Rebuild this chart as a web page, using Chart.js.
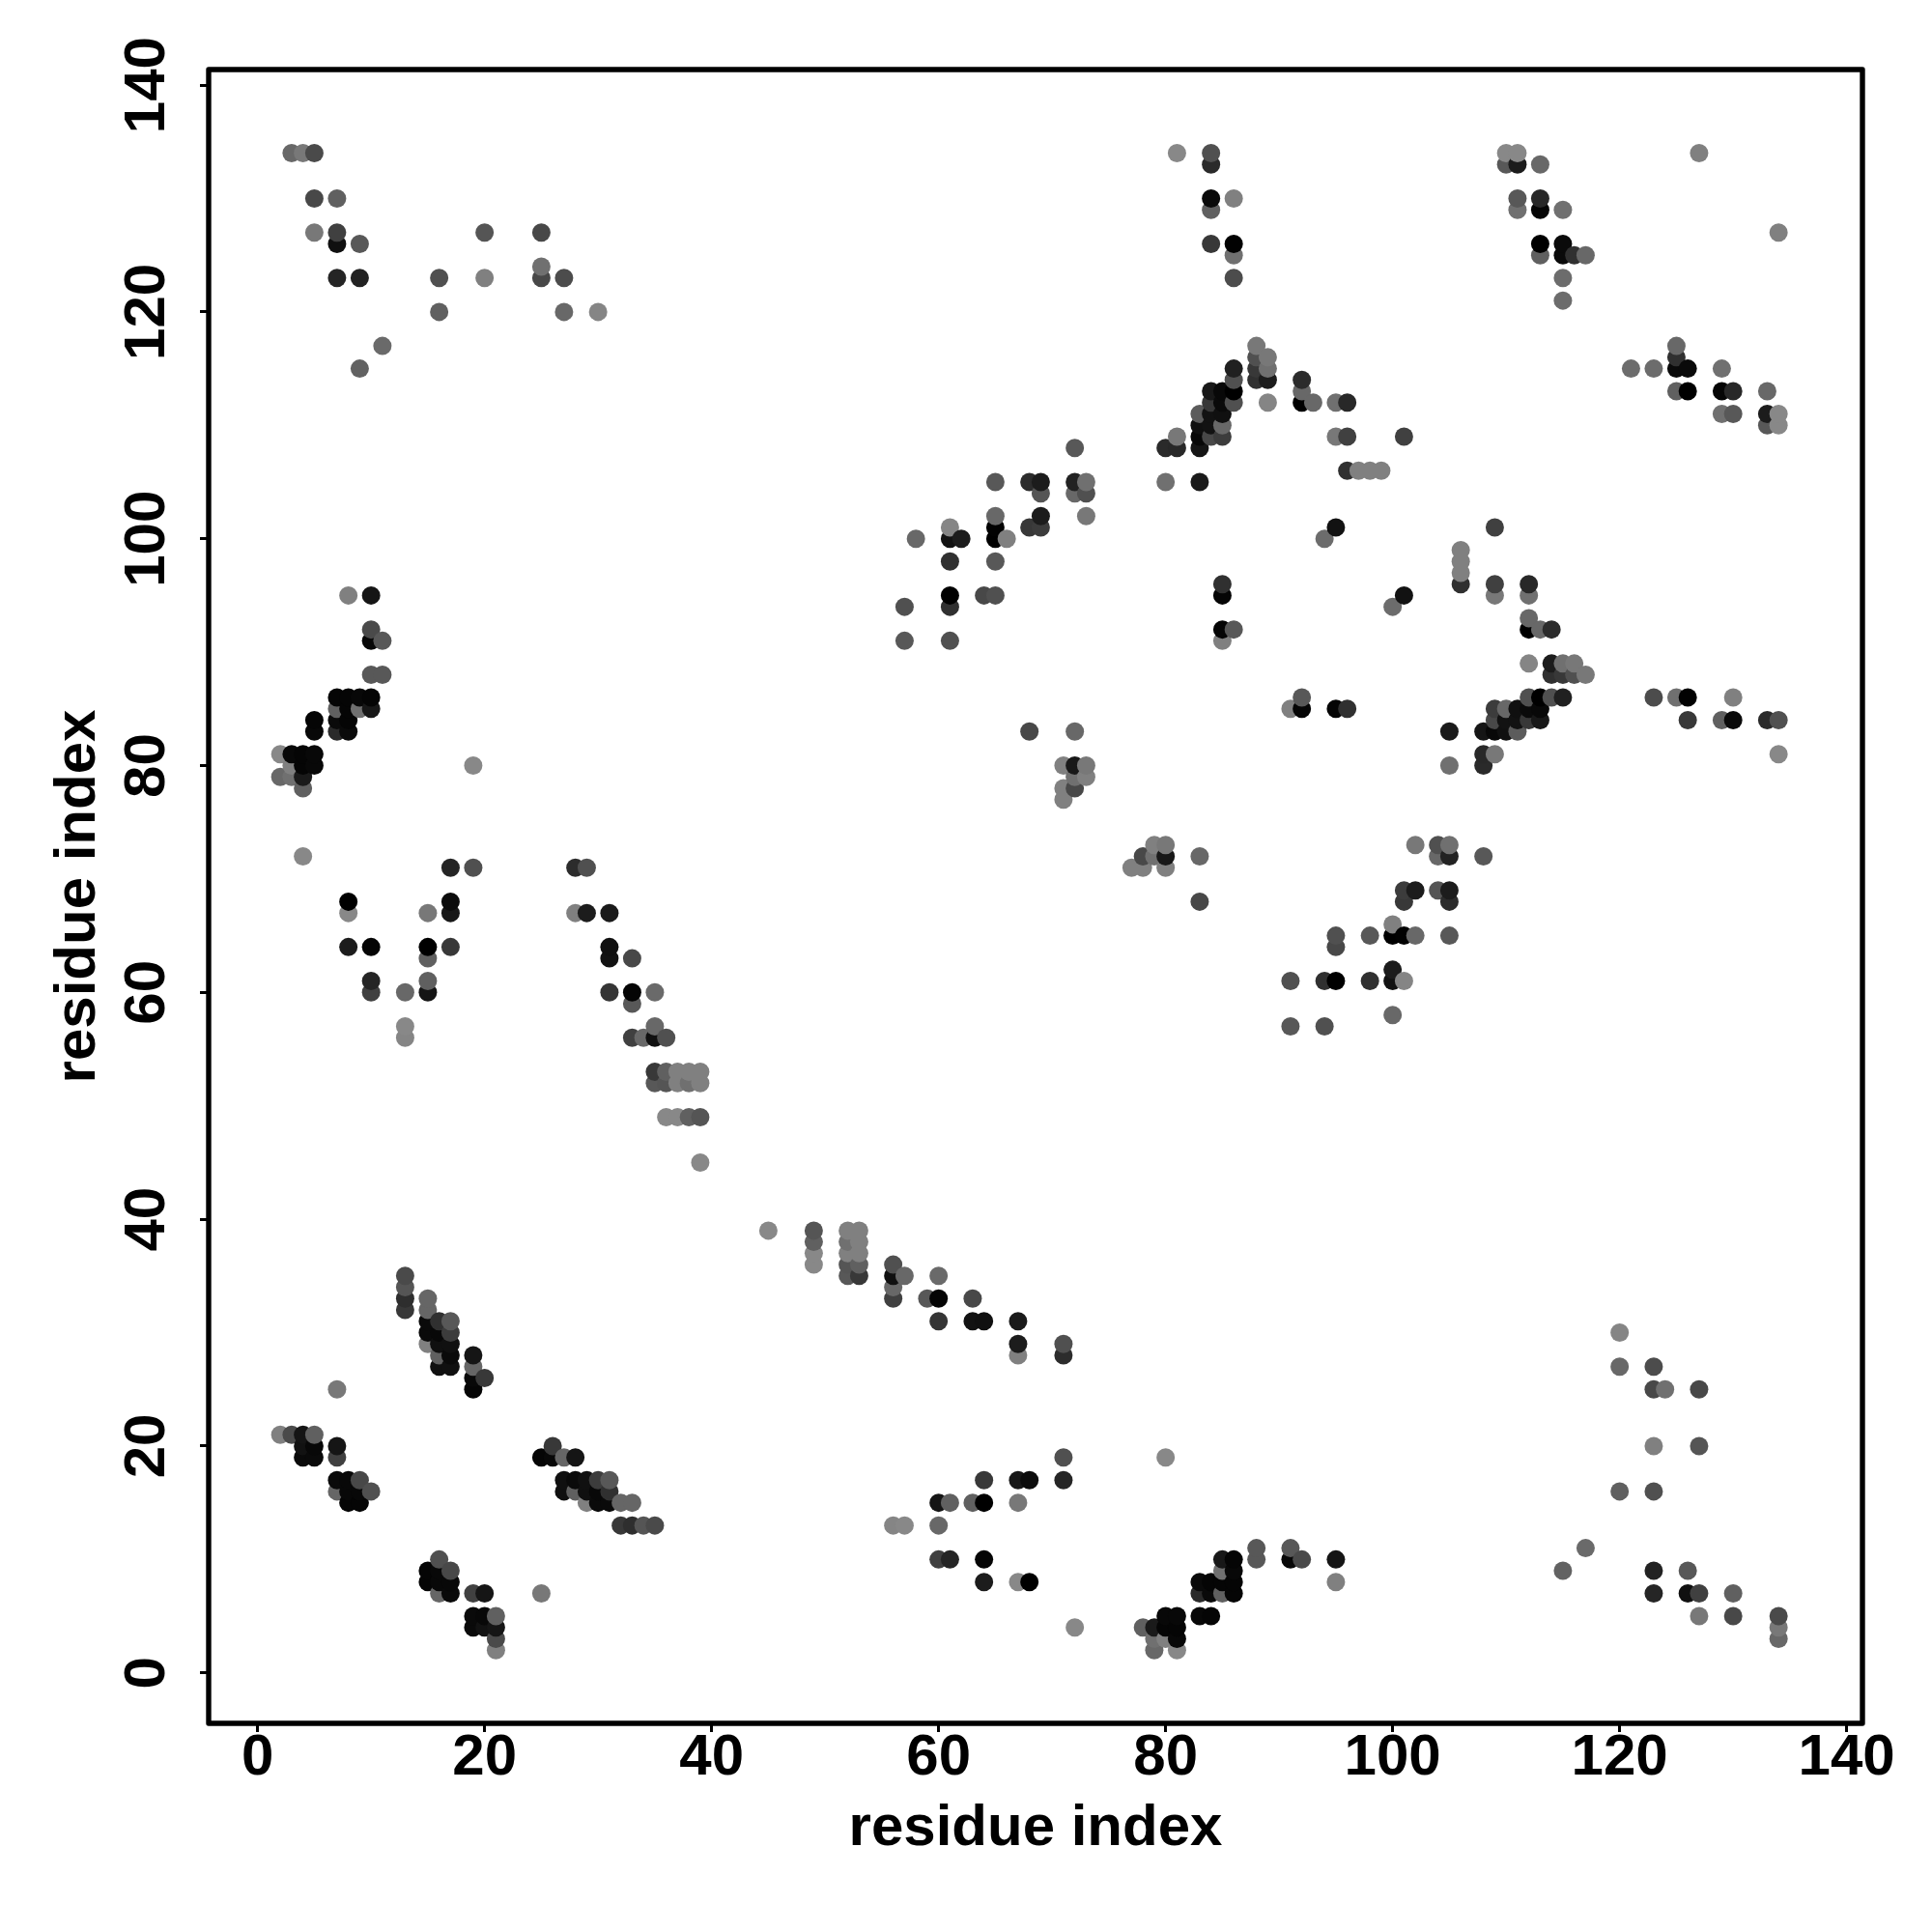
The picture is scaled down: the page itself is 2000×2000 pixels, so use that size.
<!DOCTYPE html>
<html>
<head>
<meta charset="utf-8">
<title>Contact map</title>
<script src="https://cdn.jsdelivr.net/npm/chart.js@4"></script>
<style>
  html, body { margin: 0; background: #fff; }
  canvas { display: block; }
</style>
</head>
<body>
<canvas id="contactChart" width="2000" height="2000"></canvas>
<script>
// Contacts, one per entry: residue i, residue j, grey level.
// The map is symmetric, so only i < j is listed and each one is also drawn as (j, i).
const residueI = [
  2,2,2,
  3,3,3,3,3,
  4,4,4,4,4,4,4,4,4,
  5,5,5,5,5,5,5,5,5,5,
  7,7,7,7,7,7,7,7,7,7,7,7,7,
  8,8,8,8,8,8,8,8,8,8,8,
  9,9,9,9,9,9,9,9,
  10,10,10,10,10,10,10,10,10,10,
  11,11,11,
  13,13,13,13,13,13,13,
  15,15,15,15,15,15,15,15,15,15,
  16,16,16,16,16,16,16,
  17,17,17,17,17,17,17,17,17,
  19,19,19,19,19,19,
  20,20,20,
  25,25,25,
  27,27,
  28,28,
  29,29,
  30,
  31,31,31,31,
  33,33,33,33,
  34,
  35,35,35,35,35,
  36,36,36,36,
  37,37,37,
  38,38,38,
  39,39,39,39,
  57,57,
  58,
  61,61,61,61,61,61,
  62,
  64,
  65,65,65,65,65,65,
  66,
  68,68,68,
  69,69,69,69,
  71,71,71,
  72,72,72,72,72,72,72,
  73,73,73,73,73,
  80,80,
  81,81,81,
  83,83,83,83,83,
  84,84,84,84,84,84,84,84,84,84,
  85,85,85,85,85,85,85,85,85,
  86,86,86,86,86,86,86,86,86,
  88,88,88,88,
  89,89,89,89,
  92,92,92,
  93,
  94,
  95,95,95,
  96,96,96,
  97,98,99,
  101,
  110,110,
  111,111,111,111,
  113,113,113,113,113,
  115,115,115,115,115,
  116,
  117,
  127
];
const residueJ = [
  21,79,81,
  21,79,80,81,134,
  19,20,21,72,78,79,80,81,134,
  19,20,21,80,81,83,84,127,130,134,
  16,17,19,20,25,83,84,85,86,123,126,127,130,
  15,16,17,64,67,68,83,84,85,86,95,
  15,16,17,85,86,115,123,126,
  16,60,61,64,85,86,88,91,92,95,
  88,91,117,
  32,33,34,35,56,57,60,
  29,30,31,32,33,60,61,63,64,67,
  27,28,29,30,31,120,123,
  27,28,29,30,31,64,67,68,71,
  25,26,27,28,71,80,
  26,123,127,
  123,124,127,
  120,123,
  67,71,
  67,71,
  120,
  60,63,64,67,
  56,59,60,63,
  56,
  52,53,56,57,60,
  49,52,53,56,
  49,52,53,
  49,52,53,
  45,49,52,53,
  91,94,
  100,
  91,94,95,98,100,101,
  100,
  95,
  95,98,100,101,102,105,
  100,
  83,101,105,
  101,102,104,105,
  77,78,80,
  78,79,80,83,104,105,108,
  79,80,102,104,105,
  105,108,
  108,109,134,
  105,108,109,110,111,
  109,110,111,112,113,126,129,130,133,134,
  91,92,95,96,109,110,111,112,113,
  92,112,113,114,115,123,125,126,130,
  114,115,116,117,
  112,114,115,116,
  112,113,114,
  112,
  100,
  101,109,112,
  106,109,112,
  106,106,106,
  109,
  133,134,
  129,130,133,134,
  125,126,129,130,133,
  121,123,125,126,129,
  125,
  125,
  134
];
const contactGrey = [
  128,104,136,
  74,112,128,8,104,
  10,18,21,136,96,26,5,5,120,
  10,8,96,8,8,8,5,120,72,74,
  102,10,64,21,120,42,10,96,5,37,16,64,96,
  5,8,8,28,136,0,10,5,5,5,128,
  5,8,72,112,8,98,34,88,
  80,64,37,5,24,5,88,8,74,21,
  88,88,106,
  56,46,85,74,133,136,104,
  128,10,10,102,102,21,96,96,0,120,
  16,96,16,8,48,96,80,
  16,10,16,60,88,56,24,12,37,
  5,8,102,21,80,136,
  56,128,85,
  72,112,72,
  104,76,
  128,44,
  28,80,
  133,
  53,18,16,26,
  64,88,5,72,
  104,
  88,56,16,104,106,
  136,85,96,80,
  136,128,128,
  96,112,128,
  136,85,128,128,
  88,80,
  104,
  80,48,0,48,18,133,
  28,
  72,
  80,88,0,2,104,88,
  128,
  72,56,44,
  60,28,85,28,
  128,128,128,
  72,112,24,104,104,34,88,
  128,120,120,80,112,
  112,42,
  40,120,136,
  26,21,8,16,92,
  72,18,18,56,24,56,96,10,42,80,
  128,5,5,48,60,104,16,10,8,
  88,80,0,80,32,76,112,2,128,
  48,56,80,120,
  133,28,112,120,
  0,104,44,
  104,
  108,
  18,120,112,
  48,64,40,
  128,128,128,
  64,
  88,136,
  112,88,28,136,
  96,0,5,40,104,
  108,108,10,10,112,
  48,
  104,
  128
];
const tickValues = [0, 20, 40, 60, 80, 100, 120, 140];
const axisTitle = 'residue index';

const BLACK = '#000';
const FONT_FAMILY = '"Liberation Sans", Arial, sans-serif';

// Build both halves of the map, drawn in R's order: by x, then by y
const contacts = [];
residueI.forEach(function (i, n) {
    contacts.push({ x: i, y: residueJ[n], grey: contactGrey[n] });
    contacts.push({ x: residueJ[n], y: i, grey: contactGrey[n] });
});
contacts.sort(function (a, b) {
    return a.x - b.x || a.y - b.y;
});

// Box around the plot area, all four sides
const plotFrame = {
    id: 'plotFrame',
    afterDatasetsDraw: function (chart) {
        const area = chart.chartArea;
        const ctx = chart.ctx;
        ctx.save();
        ctx.strokeStyle = BLACK;
        ctx.lineWidth = 5.4;
        ctx.lineJoin = 'round';
        ctx.strokeRect(area.left, area.top, area.right - area.left, area.bottom - area.top);
        ctx.restore();
    }
};

function sharedTicks(rotation, padding) {
    return {
        autoSkip: false,
        includeBounds: false,
        stepSize: 20,
        color: BLACK,
        padding: padding,
        minRotation: rotation,
        maxRotation: rotation,
        crossAlign: 'center',
        font: { family: FONT_FAMILY, size: 60, weight: 'bold' },
        callback: function (value) {
            return tickValues.includes(value) ? String(value) : null;
        }
    };
}

function sharedGrid() {
    return {
        display: true,
        drawOnChartArea: false,
        drawTicks: true,
        tickLength: 9,
        tickWidth: 3,
        tickColor: BLACK
    };
}

new Chart(document.getElementById('contactChart'), {
    type: 'scatter',
    data: {
        datasets: [{
            data: contacts,
            showLine: false,
            pointRadius: 9.5,
            pointBorderWidth: 0,
            pointBackgroundColor: contacts.map(function (c) {
                return 'rgb(' + c.grey + ',' + c.grey + ',' + c.grey + ')';
            })
        }]
    },
    options: {
        responsive: false,
        animation: false,
        layout: { padding: { top: 72, right: 72, left: 0, bottom: 0 } },
        plugins: { legend: { display: false }, tooltip: { enabled: false } },
        scales: {
            x: {
                type: 'linear',
                min: -4.31,
                max: 141.39,
                border: { display: false },
                grid: sharedGrid(),
                ticks: sharedTicks(0, 27),
                title: {
                    display: true,
                    text: axisTitle,
                    color: BLACK,
                    font: { family: FONT_FAMILY, size: 60, weight: 'bold' },
                    padding: { top: 0, bottom: 71 }
                },
                afterFit: function (scale) { scale.height = 216; }
            },
            y: {
                type: 'linear',
                min: -4.45,
                max: 141.37,
                border: { display: false },
                grid: sharedGrid(),
                ticks: sharedTicks(90, 3),
                title: {
                    display: true,
                    text: axisTitle,
                    color: BLACK,
                    font: { family: FONT_FAMILY, size: 60, weight: 'bold' },
                    padding: { top: 45, bottom: 0 }
                },
                afterFit: function (scale) { scale.width = 216; }
            }
        }
    },
    plugins: [plotFrame]
});
</script>
</body>
</html>
